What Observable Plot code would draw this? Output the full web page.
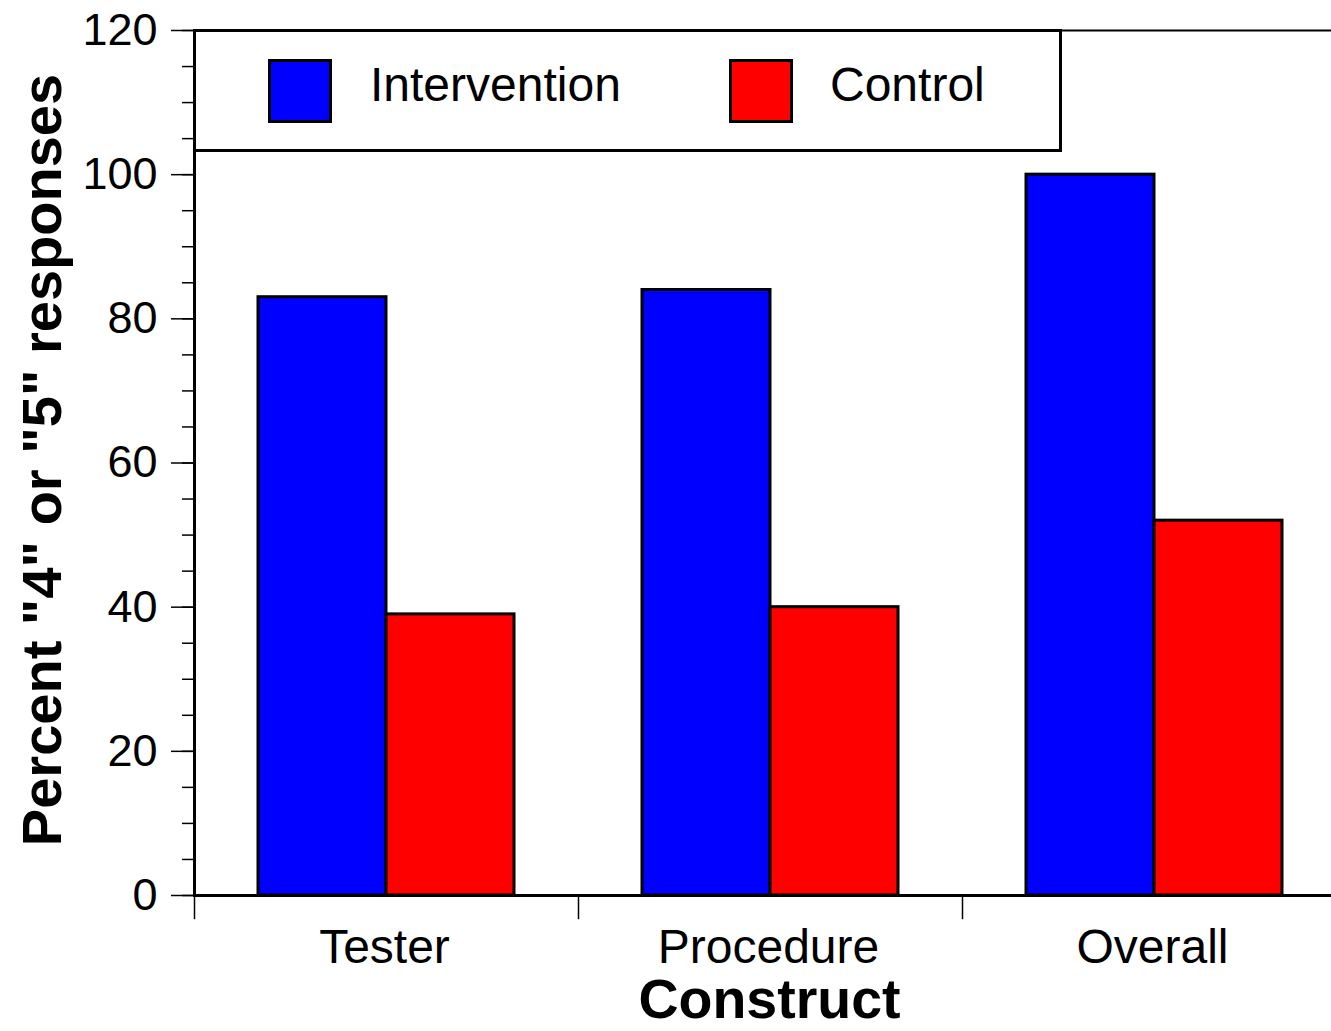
<!DOCTYPE html>
<html>
<head>
<meta charset="utf-8">
<script src="https://cdn.jsdelivr.net/npm/d3@7"></script>
<script src="https://cdn.jsdelivr.net/npm/@observablehq/plot@0.6"></script>
<style>
  html, body { margin: 0; padding: 0; background: white; }
  body { font-family: "Liberation Sans", Arial, Helvetica, sans-serif; }
  #wrap { position: relative; width: 1331px; height: 1031px; overflow: hidden; }
  #legend { position: absolute; left: 193px; top: 29px; width: 869px; height: 123px;
            border: 3px solid black; box-sizing: border-box; background: white; }
  .sw { position: absolute; top: 27px; width: 64px; height: 64px; border: 3px solid black; box-sizing: border-box; }
  .lt { position: absolute; top: 23px; font-size: 48px; line-height: 60px; color: black; white-space: nowrap; }
  #xtitle { position: absolute; left: 193px; width: 1153px; top: 972px; height: 56px; text-align: center;
            font-size: 55.5px; font-weight: bold; line-height: 55px; }
  #ytitle { position: absolute; left: -408px; top: 430px; width: 900px; height: 60px; line-height: 60px;
            text-align: center; font-size: 56px; font-weight: bold; transform: rotate(-90deg); white-space: nowrap; }
</style>
</head>
<body>
<div id="wrap"></div>
<script>
const categories = ["Tester", "Procedure", "Overall"];
const series = ["Intervention", "Control"];
const intervention = [83, 84, 100];
const control = [39, 40, 52];
const seriesColors = ["#0000ff", "#ff0000"];
const yTicks = [0, 20, 40, 60, 80, 100, 120];
const yMinorTicks = [0, 5, 10, 15, 20, 25, 30, 35, 40, 45, 50, 55, 60, 65, 70, 75, 80, 85, 90, 95, 100, 105, 110, 115, 120];
const xTitle = "Construct";
const yTitle = 'Percent "4" or "5" responses';

const data = categories.flatMap((c, i) => [
  {construct: c, group: series[0], value: intervention[i]},
  {construct: c, group: series[1], value: control[i]}
]);

const chart = Plot.plot({
  width: 1331,
  height: 1031,
  marginLeft: 193,
  marginRight: -15,
  marginTop: 30,
  marginBottom: 136,
  style: {fontFamily: '"Liberation Sans", Arial, Helvetica, sans-serif', background: "white", color: "black", overflow: "visible"},
  fx: {domain: categories, padding: 0, label: null},
  x: {domain: series, paddingInner: 0, paddingOuter: 0.5, axis: null},
  y: {domain: [0, 120]},
  color: {domain: series, range: seriesColors},
  marks: [
    Plot.frame({anchor: "top", strokeWidth: 2}),
    Plot.barY(data, {fx: "construct", x: "group", y: "value", fill: "group", stroke: "black", strokeWidth: 3}),
    Plot.frame({anchor: "bottom", strokeWidth: 3}),
    Plot.frame({anchor: "left", insetTop: 867, insetBottom: -23, strokeWidth: 1.5}),
    Plot.axisY({ticks: yMinorTicks, tickSize: 12, text: null, strokeWidth: 1.5, label: null}),
    Plot.axisY({ticks: yTicks, tickSize: 23, tickPadding: 14, fontSize: 45, strokeWidth: 1.5, label: null}),
    Plot.frame({anchor: "left", facetAnchor: "left", strokeWidth: 3}),
    Plot.axisFx({anchor: "bottom", tickSize: 0, tickPadding: 33, fontSize: 48, dx: -2, label: null})
  ]
});

const wrap = document.getElementById("wrap");
wrap.appendChild(chart);

const color = chart.scale("color");
const legend = document.createElement("div");
legend.id = "legend";
const swLeft = [72, 533];
const txLeft = [174, 634];
series.forEach((s, i) => {
  const sw = document.createElement("div");
  sw.className = "sw";
  sw.style.left = swLeft[i] + "px";
  sw.style.background = color.apply(s);
  legend.appendChild(sw);
  const t = document.createElement("div");
  t.className = "lt";
  t.style.left = txLeft[i] + "px";
  t.textContent = s;
  legend.appendChild(t);
});
wrap.appendChild(legend);

const xt = document.createElement("div");
xt.id = "xtitle";
xt.textContent = xTitle;
wrap.appendChild(xt);
const yt = document.createElement("div");
yt.id = "ytitle";
yt.textContent = yTitle;
wrap.appendChild(yt);
</script>
</body>
</html>
